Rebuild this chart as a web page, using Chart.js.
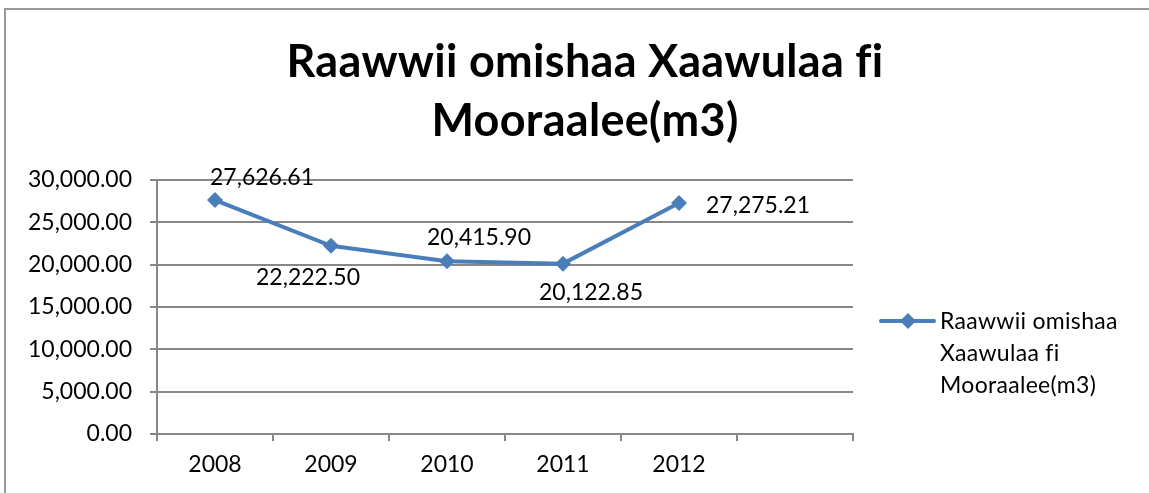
<!DOCTYPE html>
<html>
<head>
<meta charset="utf-8">
<script src="https://cdn.jsdelivr.net/npm/chart.js@4.4.1/dist/chart.umd.min.js"></script>
<style>
    html, body { margin: 0; padding: 0; background: #fff; }
    #frame {
        position: absolute; left: 4px; top: 8px; width: 1200px; height: 600px;
        border: 2px solid #9a9a9a; box-sizing: border-box;
    }
    #wrap { position: absolute; left: 0; top: 0; width: 1149px; height: 493px; }
</style>
</head>
<body>
<div id="frame"></div>
<div id="wrap"><canvas id="chart"></canvas></div>
<script>
// data
const years = ['2008', '2009', '2010', '2011', '2012', ''];
const volumes = [27626.61, 22222.50, 20415.90, 20122.85, 27275.21];
const titleLines = ['Raawwii omishaa Xaawulaa fi', 'Mooraalee(m3)'];
const legendLines = ['Raawwii omishaa', 'Xaawulaa fi', 'Mooraalee(m3)'];

const FONT = 'Lato, "Noto Sans", sans-serif';
const TEXT_SIZE = 23;
const BLUE = '#4a7ebb';
const GRID = '#878787';

// label placement relative to each point (dx, dy)
const labelOffsets = [[47, -23], [-23, 32], [32, -24], [28, 29], [79, 3]];

const fmt = v => v.toLocaleString('en-US', { minimumFractionDigits: 2, maximumFractionDigits: 2 });

const decorations = {
    id: 'decorations',
    afterDatasetsDraw(chart) {
        const ctx = chart.ctx;
        ctx.save();
        // keep "fi" as two letters, no ligature
        ctx.letterSpacing = '0.3px';
        // title
        ctx.fillStyle = '#000';
        ctx.textAlign = 'center';
        ctx.textBaseline = 'middle';
        ctx.font = 'bold 45px ' + FONT;
        ctx.fillText(titleLines[0], 585, 62);
        ctx.fillText(titleLines[1], 585, 121);

        // data labels
        ctx.letterSpacing = '0px';
        ctx.font = TEXT_SIZE + 'px ' + FONT;
        const meta = chart.getDatasetMeta(0);
        meta.data.forEach((pt, i) => {
            const [dx, dy] = labelOffsets[i];
            ctx.fillText(fmt(volumes[i]), pt.x + dx, pt.y + dy);
        });

        // legend
        ctx.strokeStyle = BLUE;
        ctx.lineWidth = 4;
        ctx.lineCap = 'round';
        ctx.beginPath();
        ctx.moveTo(881, 321);
        ctx.lineTo(934, 321);
        ctx.stroke();
        ctx.fillStyle = BLUE;
        ctx.beginPath();
        ctx.moveTo(908, 313);
        ctx.lineTo(916, 321);
        ctx.lineTo(908, 329);
        ctx.lineTo(900, 321);
        ctx.closePath();
        ctx.fill();
        ctx.fillStyle = '#000';
        ctx.textAlign = 'left';
        ctx.letterSpacing = '0.3px';
        legendLines.forEach((t, i) => ctx.fillText(t, 940, 322 + i * 32));
        ctx.restore();
    }
};

new Chart(document.getElementById('chart'), {
    type: 'line',
    data: {
        labels: years,
        datasets: [{
            label: legendLines.join(' '),
            data: volumes,
            borderColor: BLUE,
            backgroundColor: BLUE,
            borderWidth: 4,
            pointStyle: 'rectRot',
            pointRadius: 8,
            pointBorderWidth: 0,
            tension: 0
        }]
    },
    options: {
        responsive: true,
        maintainAspectRatio: false,
        animation: false,
        layout: { padding: { top: 180, right: 296, left: 0, bottom: 0 } },
        plugins: {
            legend: { display: false },
            title: { display: false },
            tooltip: { enabled: false }
        },
        scales: {
            x: {
                offset: true,
                grid: {
                    offset: true,
                    drawOnChartArea: false,
                    color: GRID,
                    tickLength: 7,
                    lineWidth: 2
                },
                border: { color: GRID, width: 2 },
                ticks: {
                    color: '#000',
                    font: { family: FONT, size: TEXT_SIZE },
                    padding: 10,
                    maxRotation: 0,
                    autoSkip: false
                },
                afterFit(scale) { scale.height = 59; }
            },
            y: {
                min: 0,
                max: 30000,
                grid: { color: GRID, lineWidth: 2, tickLength: 7 },
                border: { color: GRID, width: 2 },
                ticks: {
                    stepSize: 5000,
                    color: '#000',
                    font: { family: FONT, size: TEXT_SIZE },
                    padding: 18,
                    callback: v => fmt(v)
                },
                afterFit(scale) { scale.width = 157; }
            }
        }
    },
    plugins: [decorations]
});
</script>
</body>
</html>
